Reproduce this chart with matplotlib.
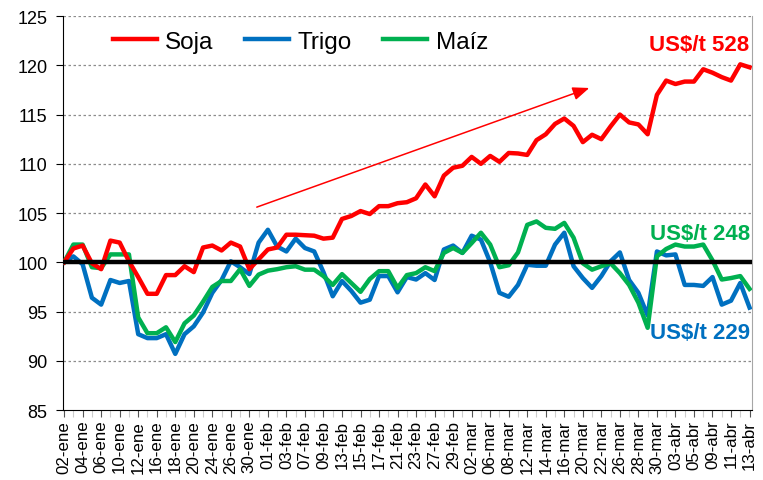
import matplotlib
matplotlib.use("Agg")
import matplotlib.pyplot as plt
import numpy as np

plt.rcParams.update({
    "font.family": ["Liberation Sans", "DejaVu Sans"],
    "figure.facecolor": "white",
    "axes.facecolor": "white",
})

# indice base 100 = 02-ene, una observacion por dia habil
soja = [100.0, 101.4, 101.7, 99.9, 99.3, 102.2, 102.0, 100.1, 98.5, 96.8,
        96.8, 98.7, 98.7, 99.6, 99.0, 101.5, 101.7, 101.2, 102.0, 101.6,
        99.3, 100.3, 101.3, 101.5, 102.8, 102.8, 102.75, 102.7, 102.4, 102.5,
        104.4, 104.7, 105.2, 104.9, 105.7, 105.7, 106.0, 106.1, 106.5, 107.9,
        106.7, 108.8, 109.6, 109.8, 110.7, 110.0, 110.8, 110.2, 111.1, 111.05,
        110.9, 112.4, 113.0, 114.05, 114.6, 113.85, 112.2, 112.95, 112.5, 113.8,
        115.0, 114.2, 114.0, 113.0, 117.0, 118.45, 118.1, 118.35, 118.35, 119.6,
        119.25, 118.8, 118.45, 120.1, 119.8]
trigo = [100.0, 100.6, 99.8, 96.4, 95.7, 98.2, 97.9, 98.1, 92.7, 92.3,
         92.3, 92.7, 90.7, 92.7, 93.5, 94.9, 96.9, 98.2, 100.1, 99.5,
         98.8, 102.0, 103.3, 101.6, 101.1, 102.4, 101.45, 101.1, 99.0, 96.55,
         98.1, 97.1, 95.9, 96.2, 98.6, 98.6, 96.95, 98.5, 98.25, 98.9,
         98.2, 101.3, 101.7, 100.95, 102.7, 102.3, 100.0, 96.9, 96.5, 97.7,
         99.75, 99.65, 99.65, 101.8, 103.0, 99.6, 98.4, 97.4, 98.6, 100.1,
         101.0, 98.2, 96.9, 94.6, 101.1, 100.7, 100.8, 97.7, 97.7, 97.6,
         98.5, 95.7, 96.1, 97.9, 95.4]
maiz = [100.0, 101.8, 101.8, 99.5, 99.4, 100.8, 100.8, 100.8, 94.4, 92.8,
        92.8, 93.4, 91.9, 93.8, 94.6, 96.0, 97.5, 98.1, 98.1, 99.3,
        97.6, 98.75, 99.15, 99.3, 99.5, 99.6, 99.25, 99.25, 98.6, 97.7,
        98.8, 97.9, 97.0, 98.3, 99.1, 99.1, 97.4, 98.7, 98.9, 99.5,
        99.1, 100.95, 101.45, 100.95, 101.95, 103.0, 101.8, 99.5, 99.7, 101.0,
        103.8, 104.15, 103.5, 103.4, 104.0, 102.5, 99.9, 99.25, 99.6, 99.9,
        98.9, 97.7, 95.9, 93.35, 100.6, 101.35, 101.8, 101.6, 101.6, 101.8,
        100.2, 98.25, 98.4, 98.6, 97.3]

fechas = ["02-ene", "04-ene", "06-ene", "10-ene", "12-ene", "16-ene", "18-ene",
          "20-ene", "24-ene", "26-ene", "30-ene", "01-feb", "03-feb", "07-feb",
          "09-feb", "13-feb", "15-feb", "17-feb", "21-feb", "23-feb", "27-feb",
          "29-feb", "02-mar", "06-mar", "08-mar", "12-mar", "14-mar", "16-mar",
          "20-mar", "22-mar", "26-mar", "28-mar", "30-mar", "03-abr", "05-abr",
          "09-abr", "11-abr", "13-abr"]

ROJO = "#FF0000"
AZUL = "#0070C0"
VERDE = "#00B050"

fig = plt.figure(figsize=(7.63, 4.81), dpi=100)
ax = fig.add_axes([0.0822, 0.1455, 0.9038, 0.819])

x = np.arange(len(soja))

ax.set_ylim(85, 125)
ax.set_xlim(-0.15, len(soja) - 0.7)
ax.set_yticks(np.arange(85, 126, 5))
for v in range(90, 126, 5):
    if v != 100:
        ax.axhline(v, color="#8c8c8c", linestyle=(0, (2, 2)), linewidth=0.9, zorder=1)

ax.plot(x, soja, color=ROJO, linewidth=3.2, label="Soja", zorder=4)
ax.plot(x, trigo, color=AZUL, linewidth=3.2, label="Trigo", zorder=3)
ax.plot(x, maiz, color=VERDE, linewidth=3.2, label="Maíz", zorder=3)
ax.axhline(100, color="black", linewidth=3.2, zorder=5)

ax.annotate("", xy=(56.7, 117.7), xytext=(20.8, 105.6),
            arrowprops=dict(arrowstyle="-|>,head_length=1.0,head_width=0.4",
                            color=ROJO, lw=1.1, shrinkA=0, shrinkB=0), zorder=6)

ax.text(74.0, 122.1, "US$/t 528", color=ROJO, fontsize=16, fontweight="bold",
        ha="right", va="center")
ax.text(74.1, 102.9, "US$/t 248", color=VERDE, fontsize=16, fontweight="bold",
        ha="right", va="center")
ax.text(74.1, 92.9, "US$/t 229", color=AZUL, fontsize=16, fontweight="bold",
        ha="right", va="center")

ax.set_xticks(x[::2])
ax.set_xticklabels(fechas, rotation=90, fontsize=12.2)
ax.set_xticks(x[1::2], minor=True)
ax.tick_params(axis="x", which="major", direction="out", length=5, width=0.8,
               colors="#555555", labelcolor="black", pad=2)
ax.tick_params(axis="x", which="minor", direction="out", length=5, width=0.8,
               colors="#cccccc")
ax.tick_params(axis="y", direction="out", length=5, width=0.8, labelsize=13, pad=6)

ax.spines["top"].set_visible(False)
ax.spines["right"].set_color("#a6a6a6")
ax.spines["left"].set_color("black")
ax.spines["bottom"].set_color("black")

ax.legend(loc="center left", bbox_to_anchor=(0.073, 0.935), ncol=3, frameon=False,
          fontsize=17.5, handlelength=1.8, handletextpad=0.35, columnspacing=1.3,
          borderaxespad=0, borderpad=0)

fig.savefig("out.png", dpi=100)
